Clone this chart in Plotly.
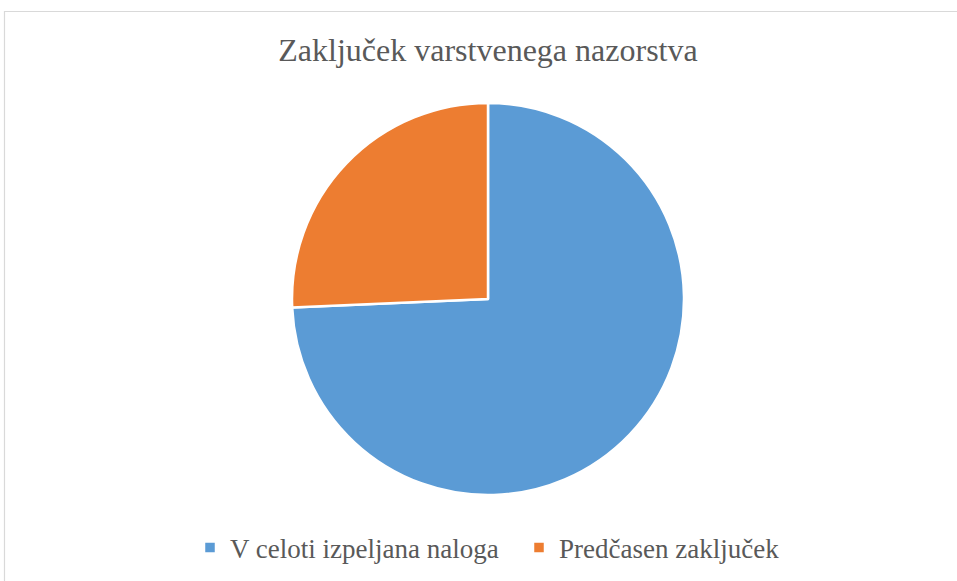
import plotly.graph_objects as go

labels = ["V celoti izpeljana naloga", "Predčasen zaključek"]
values = [74.3, 25.7]
colors = ["#5B9BD5", "#ED7D31"]

W, H = 957, 581
SERIF = "Times New Roman, Liberation Serif, serif"

fig = go.Figure(go.Pie(
    labels=labels,
    values=values,
    sort=False,
    direction="clockwise",
    rotation=0,
    textinfo="none",
    hoverinfo="label+percent",
    marker=dict(colors=colors, line=dict(color="white", width=2.5)),
    domain=dict(x=[292 / W, 684 / W], y=[1 - 495 / H, 1 - 103 / H]),
))

fig.update_layout(
    width=W, height=H,
    margin=dict(l=0, r=0, t=0, b=0),
    paper_bgcolor="white",
    plot_bgcolor="white",
    font=dict(family=SERIF, color="#595959"),
    title=dict(text="Zaključek varstvenega nazorstva", x=488 / W, xanchor="center",
               y=1 - 50 / H, yanchor="middle",
               font=dict(size=32, family=SERIF, color="#595959")),
    legend=dict(orientation="h", x=190 / W, xanchor="left", y=1 - 548 / H, yanchor="middle",
                font=dict(size=27, family=SERIF, color="#595959"),
                itemwidth=30, tracegroupgap=0, entrywidth=284),
    showlegend=True,
    shapes=[dict(type="rect", xref="paper", yref="paper",
                 x0=4.5 / W, x1=1.02, y0=-0.02, y1=1 - 11.5 / H,
                 line=dict(color="#D9D9D9", width=1.2), fillcolor="rgba(0,0,0,0)")],
)

fig.write_html("out.html", config={"displayModeBar": False},
               post_script="document.body.style.margin='0';document.body.style.overflow='hidden';")
